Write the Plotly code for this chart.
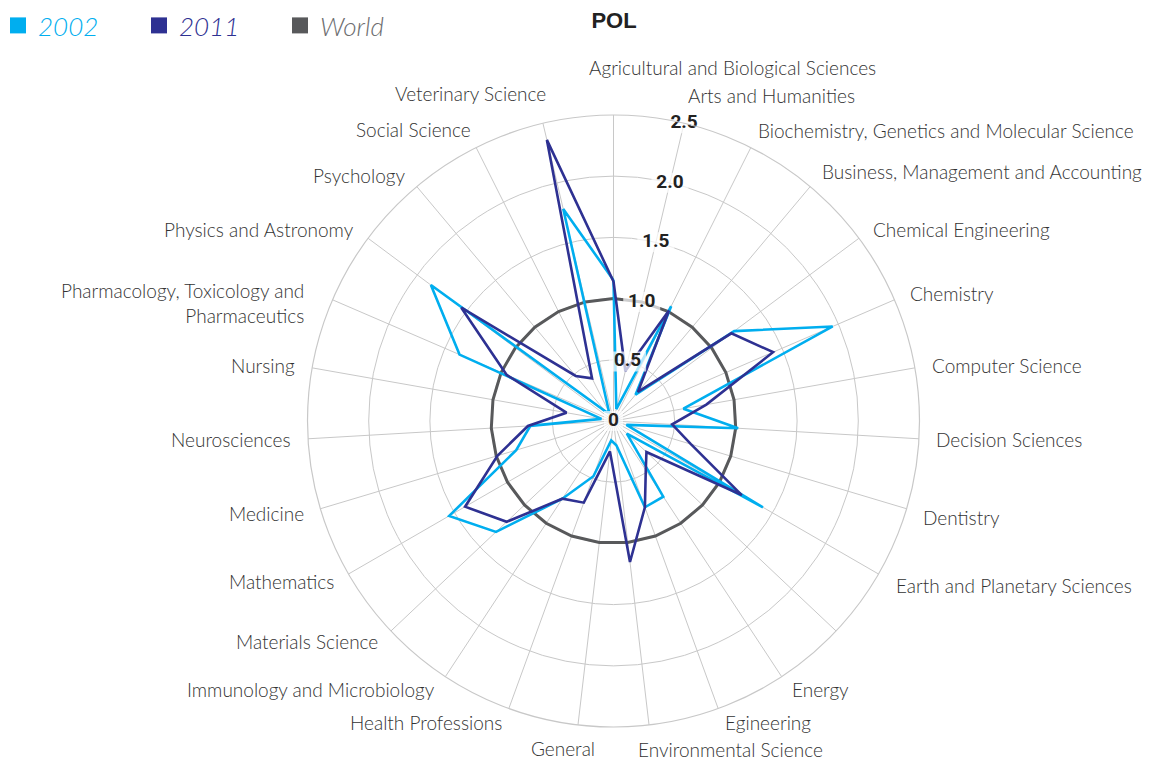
import numpy as np
import plotly.graph_objects as go

# ---------------- data ----------------
categories = [
    "Agricultural and Biological Sciences",
    "Arts and Humanities",
    "Biochemistry, Genetics and Molecular Science",
    "Business, Management and Accounting",
    "Chemical Engineering",
    "Chemistry",
    "Computer Science",
    "Decision Sciences",
    "Dentistry",
    "Earth and Planetary Sciences",
    "Economics, Econometrics and Finance",
    "Energy",
    "Egineering",
    "Environmental Science",
    "General",
    "Health Professions",
    "Immunology and Microbiology",
    "Materials Science",
    "Mathematics",
    "Medicine",
    "Neurosciences",
    "Nursing",
    "Pharmacology, Toxicology and Pharmaceutics",
    "Physics and Astronomy",
    "Psychology",
    "Social Science",
    "Veterinary Science",
]

values_2002 = [1.15, 0.10, 1.05, 0.28, 1.23, 1.95, 0.58, 1.02, 0.11, 1.41,
               0.15, 0.74, 0.75, 0.20, 0.16, 0.48, 0.76, 1.32, 1.55, 0.83,
               0.68, 0.10, 1.37, 1.86, 0.10, 0.08, 1.78]

values_2011 = [1.14, 0.42, 1.01, 0.31, 1.20, 1.42, 0.77, 0.48, 0.66, 1.21,
               0.37, 0.48, 0.75, 1.16, 0.25, 0.71, 0.76, 1.20, 1.40, 0.99,
               0.70, 0.39, 0.95, 1.55, 0.48, 0.39, 2.36]

values_world = [1.0] * len(categories)

radial_ticks = [0, 0.5, 1.0, 1.5, 2.0, 2.5]
radial_tick_labels = ["0", "0.5", "1.0", "1.5", "2.0", "2.5"]

series_names = ["2002", "2011", "World"]
title_text = "POL"

# the reference shows no label for this spoke
unlabelled = ["Economics, Econometrics and Finance"]
label_breaks = {
    "Pharmacology, Toxicology and Pharmaceutics":
        "Pharmacology, Toxicology and<br>Pharmaceutics",
}

# ---------------- style / layout ----------------
C2002 = "#00AEEF"
C2011 = "#2E3192"
CWORLD = "#58595B"
GRID = "#C8C8C8"
LABEL_FONT = "Lato"

W, H = 1150, 762
PAGE_OFF = 8                      # figure is drawn 8 px in from the page edge
CX, CY, R = 613.5 - PAGE_OFF, 421.0 - PAGE_OFF, 306.0
R_MAX = 2.5
LABEL_GAP = 15                    # px between outer ring and label anchor
# small collision nudges (px) applied to a few crowded labels
label_nudge = {
    "Agricultural and Biological Sciences": (-27, -32),
    "Arts and Humanities": (-2, -13),
    "Biochemistry, Genetics and Molecular Science": (-2, -4),
    "Business, Management and Accounting": (0, -4),
    "Social Science": (4, -5),
    "Veterinary Science": (9, -15),
    "Environmental Science": (-15, 10),
    "General": (21, 9),
    "Earth and Planetary Sciences": (3, 4),
    "Dentistry": (0, 4),
    "Pharmacology, Toxicology and Pharmaceutics": (-13, 9),
}


def closed(v):
    return list(v) + [v[0]]


fig = go.Figure()

fig.add_trace(go.Scatterpolar(
    r=closed(values_world), theta=closed(categories), mode="lines",
    line=dict(color=CWORLD, width=3), showlegend=False, hoverinfo="skip"))
fig.add_trace(go.Scatterpolar(
    r=closed(values_2002), theta=closed(categories), mode="lines",
    line=dict(color=C2002, width=2.6), showlegend=False, name="2002"))
fig.add_trace(go.Scatterpolar(
    r=closed(values_2011), theta=closed(categories), mode="lines",
    line=dict(color=C2011, width=2.6), showlegend=False, name="2011"))

# radial value labels on white boxes along the second spoke
fig.add_trace(go.Scatterpolar(
    r=radial_ticks, theta=[categories[1]] * len(radial_ticks),
    mode="markers+text", text=radial_tick_labels, textposition="middle center",
    marker=dict(symbol="line-ew",
                size=[(9 * len(t) + 10) / 1.4 for t in radial_tick_labels],
                line=dict(color="white", width=20), color="white"),
    textfont=dict(family="Roboto", size=19, color="#222222", weight=700),
    cliponaxis=False, showlegend=False, hoverinfo="skip"))

# legend entries (square swatches)
for name, col, tcol in zip(series_names, [C2002, C2011, CWORLD],
                           [C2002, C2011, "#6d6e70"]):
    fig.add_trace(go.Scatterpolar(
        r=[None], theta=[None], mode="markers",
        marker=dict(symbol="square", size=16, color=col),
        name=f"<i><span style='color:{tcol}'>{name}</span></i>",
        showlegend=True))

# category labels around the outer ring
n = len(categories)
annotations = []
for k, cat in enumerate(categories):
    if cat in unlabelled:
        continue
    a = np.radians(k * 360.0 / n)
    s, c = np.sin(a), np.cos(a)
    rl = R + LABEL_GAP
    dx, dy = label_nudge.get(cat, (0, 0))
    px = CX + rl * s + dx
    py = CY - rl * c + dy
    annotations.append(dict(
        x=px / W, y=1 - py / H, xref="paper", yref="paper",
        text=label_breaks.get(cat, cat), showarrow=False,
        xanchor="right" if s < -0.01 else "left", yanchor="middle",
        align="right" if s < -0.01 else "left",
        font=dict(family=LABEL_FONT, size=19, color="#333333", weight=300)))

fig.update_layout(
    width=W, height=H,
    margin=dict(l=0, r=0, t=0, b=0, autoexpand=False),
    paper_bgcolor="white",
    title=dict(text=f"<b>{title_text}</b>", x=(614 - PAGE_OFF) / W,
               xanchor="center", y=1 - (20 - PAGE_OFF) / H, yanchor="middle",
               yref="container",
               font=dict(family="Liberation Sans", size=22, color="#222222")),
    legend=dict(orientation="h", x=-10 / W, y=1 + 6 / H, xanchor="left",
                yanchor="top",
                font=dict(family=LABEL_FONT, size=26, weight=300),
                bgcolor="rgba(0,0,0,0)", itemclick=False,
                entrywidth=96),
    annotations=annotations,
    polar=dict(
        domain=dict(x=[(CX - R) / W, (CX + R) / W],
                    y=[1 - (CY + R) / H, 1 - (CY - R) / H]),
        bgcolor="white",
        angularaxis=dict(rotation=90, direction="clockwise",
                         categoryorder="array", categoryarray=categories,
                         showticklabels=False, ticks="",
                         gridcolor=GRID, gridwidth=1.2,
                         linecolor=GRID, linewidth=1.2),
        radialaxis=dict(range=[0, R_MAX], tickvals=radial_ticks,
                        showticklabels=False, ticks="", showline=False,
                        gridcolor=GRID, gridwidth=1.2),
    ),
)

fig.write_html("out.html")
